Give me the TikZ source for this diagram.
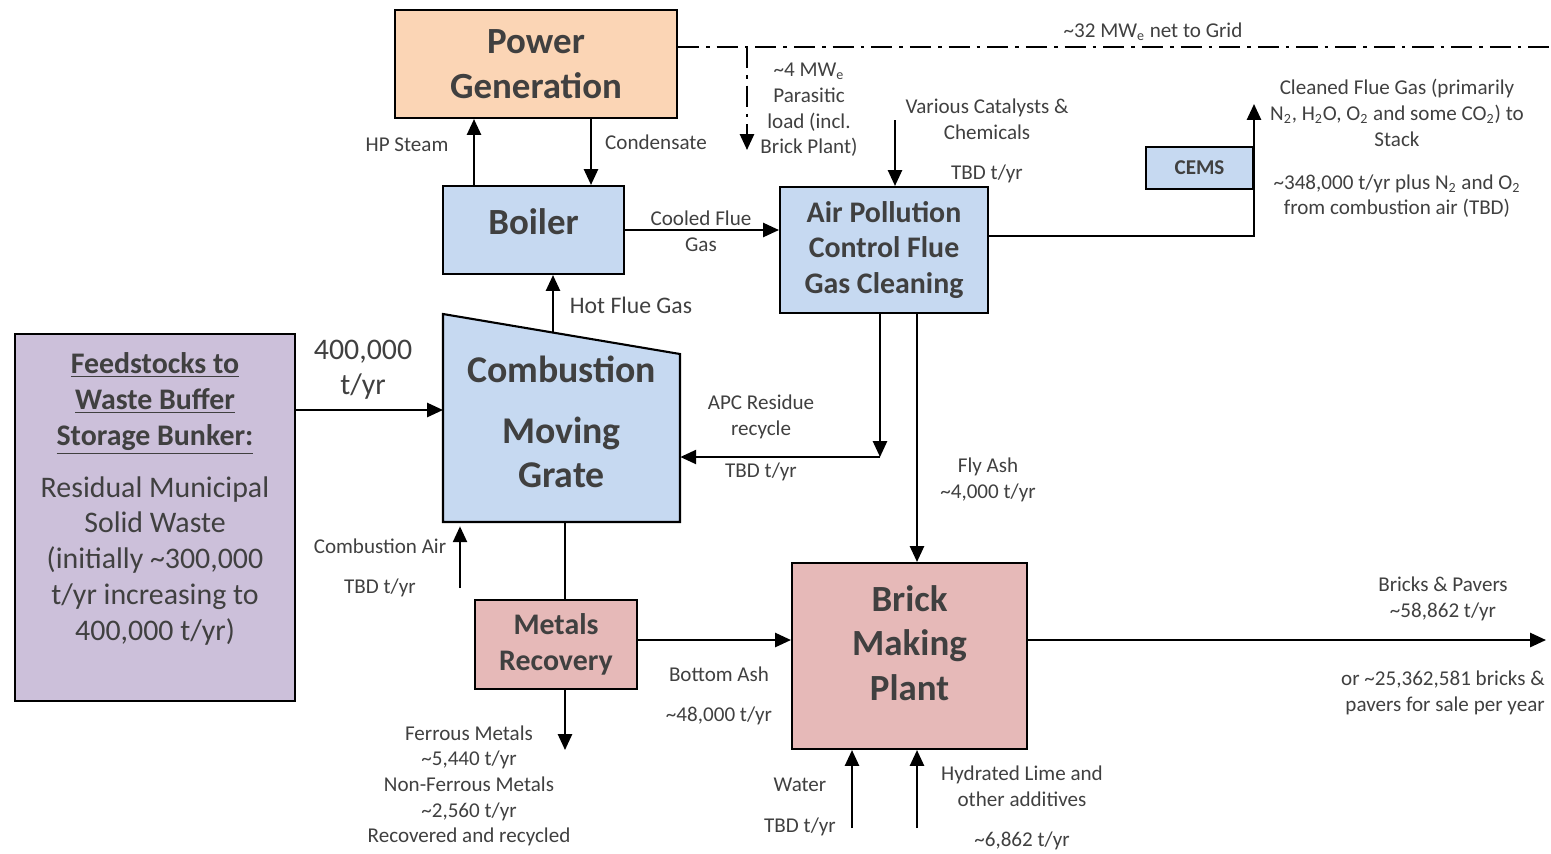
\documentclass[tikz,border=0pt]{standalone}
\usepackage{fontspec}
\setmainfont{Carlito}
\usetikzlibrary{arrows.meta,positioning,calc}
\definecolor{PowerPeach}{HTML}{FBD5B5}
\definecolor{ProcessBlue}{HTML}{C6D9F1}
\definecolor{FeedPurple}{HTML}{CCC0DA}
\definecolor{BrickPink}{HTML}{E6B9B8}
\definecolor{InkGray}{HTML}{404040}

\begin{document}
\begin{tikzpicture}[x=0.02cm,y=-0.02cm,
 box/.style={draw=black,line width=1.2pt,align=center,text=InkGray,inner sep=0pt},
 bigtitle/.style={font=\fontsize{21}{25.5}\selectfont\bfseries},
 midtitle/.style={font=\fontsize{17}{20.4}\selectfont\bfseries},
 lbl/.style={align=center,text=InkGray,font=\fontsize{12}{14.6}\selectfont,inner sep=0pt},
 flow/.style={-{Triangle[length=9pt,width=8pt]},line width=1.2pt},
 link/.style={line width=1.2pt},
 elec/.style={line width=1.2pt,dash pattern=on 12pt off 4pt on 2pt off 4pt}]
\useasboundingbox (0,0) rectangle (1551,853);
% process blocks
\node[box,bigtitle,fill=PowerPeach,minimum width=5.64cm,minimum height=2.16cm] (pow) at (536,64) {Power\\Generation};
\node[box,bigtitle,fill=ProcessBlue,minimum width=3.62cm,minimum height=1.76cm] (boiler) at (533.5,230) {\raisebox{10pt}{Boiler}};
\node[box,midtitle,fill=ProcessBlue,minimum width=4.16cm,minimum height=2.52cm] (apc) at (884,250) {Air Pollution\\Control Flue\\Gas Cleaning};
\node[box,fill=ProcessBlue,minimum width=2.14cm,minimum height=0.84cm,font=\fontsize{12}{14}\selectfont\bfseries] (cems) at (1199.5,168) {CEMS};
\node[box,fill=FeedPurple,minimum width=5.6cm,minimum height=7.34cm] (feed) at (155,517.5) {};
\node[align=center,text=InkGray,font=\fontsize{17}{20.4}\selectfont] (feedtxt) at (155,499)
 {\textbf{\underline{Feedstocks to}}\\\textbf{\underline{Waste Buffer}}\\\textbf{\underline{Storage Bunker:}}\\[9pt]
 Residual Municipal\\Solid Waste\\(initially \textasciitilde300,000\\t/yr increasing to\\400,000 t/yr)};
\draw[link,fill=ProcessBlue] (443,314) -- (680,354) -- (680,522) -- (443,522) -- cycle;
\node[align=center,text=InkGray,inner sep=0pt,minimum width=4.74cm,minimum height=4.16cm,font=\fontsize{21.5}{25}\selectfont\bfseries] (comb) at (561.5,422) {Combustion\\[10pt]Moving\\Grate};
\node[box,midtitle,fill=BrickPink,minimum width=3.24cm,minimum height=1.78cm] (metals) at (556,644.5) {Metals\\Recovery};
\node[box,fill=BrickPink,minimum width=4.7cm,minimum height=3.72cm] (brick) at (909.5,656) {};
\node[align=center,text=InkGray,bigtitle] (bricktxt) at (909.5,643) {Brick\\Making\\Plant};

% connector points
\coordinate (gridend) at (1551,47);
\coordinate (para) at (747,150);
\coordinate (hp) at (474,186);
\coordinate (cond) at (591,118);
\coordinate (hot) at (553,333);
\coordinate (cat) at (895,120);
\coordinate (apcout) at (988,236);
\coordinate (stack) at (1254,104);
\coordinate (res) at (880,457);
\coordinate (fly) at (917,313);
\coordinate (feedin) at (443,410);
\coordinate (air) at (460,588);
\coordinate (ash) at (565,522);
\coordinate (ferr) at (565,750);
\coordinate (botash) at (637,640);
\coordinate (sale) at (1546,640);
\coordinate (water) at (852,828);
\coordinate (lime) at (917,828);

% electricity
\draw[elec] (pow.east |- gridend) -- (gridend);
\draw[elec,-{Triangle[length=9pt,width=8pt]}] (para |- gridend) -- (para);

% material flows
\draw[flow] (hp) -- (hp |- pow.south);
\draw[flow] (cond) -- (cond |- boiler.north);
\draw[flow] (hot) -- (hot |- boiler.south);
\draw[flow] (boiler.east) -- (boiler.east -| apc.west);
\draw[flow] (cat) -- (cat |- apc.north);
\draw[flow] (apcout) -| (stack);
\draw[flow] (res |- apc.south) -- (res);
\draw[flow] (res) -- (res -| comb.east);
\draw[flow] (fly) -- (fly |- brick.north);
\draw[flow] (feedin -| feed.east) -- (feedin);
\draw[flow] (air) -- (air |- comb.south);
\draw[link] (ash) -- (ash |- metals.north);
\draw[flow] (ash |- metals.south) -- (ferr);
\draw[flow] (botash) -- (botash -| brick.west);
\draw[flow] (sale -| brick.east) -- (sale);
\draw[flow] (water) -- (water |- brick.south);
\draw[flow] (lime) -- (lime |- brick.south);

% labels
\node[lbl] (gridlbl) at (1153,32) {\textasciitilde32 MW\textsubscript{e} net to Grid};
\node[lbl] (paralbl) at (809,110) {\textasciitilde4 MW\textsubscript{e}\\Parasitic\\load (incl.\\Brick Plant)};
\node[lbl] (hplbl) at (407,145) {HP Steam};
\node[lbl] (condlbl) at (656,142) {Condensate};
\node[lbl] (coollbl) at (701,231) {Cooled Flue\\Gas};
\node[lbl,font=\fontsize{13.5}{16}\selectfont] (hotlbl) at (631,305) {Hot Flue Gas};
\node[lbl] (catlbl) at (987,119) {Various Catalysts \&\\Chemicals};
\node[lbl] (catrate) at (987,174) {TBD t/yr};
\node[lbl] (stacklbl) at (1397,113) {Cleaned Flue Gas (primarily\\N\textsubscript{2}, H\textsubscript{2}O, O\textsubscript{2} and some CO\textsubscript{2}) to\\Stack};
\node[lbl] (stackrate) at (1397,196) {\textasciitilde348,000 t/yr plus N\textsubscript{2} and O\textsubscript{2}\\from combustion air (TBD)};
\node[lbl] (reslbl) at (761,417) {APC Residue\\recycle};
\node[lbl] (resrate) at (761,472) {TBD t/yr};
\node[lbl] (flylbl) at (988,480) {Fly Ash\\\textasciitilde4,000 t/yr};
\node[lbl,font=\fontsize{17}{20}\selectfont] (feedrate) at (363,370) {400,000\\t/yr};
\node[lbl] (airlbl) at (380,546) {Combustion Air};
\node[lbl] (airrate) at (380,588) {TBD t/yr};
\node[lbl] (ashlbl) at (719,674) {Bottom Ash};
\node[lbl] (ashrate) at (719,716) {\textasciitilde48,000 t/yr};
\node[lbl] (ferrlbl) at (469,786) {Ferrous Metals\\\textasciitilde5,440 t/yr\\Non-Ferrous Metals\\\textasciitilde2,560 t/yr\\Recovered and recycled};
\node[lbl] (waterlbl) at (800,785) {Water};
\node[lbl] (waterrate) at (800,827) {TBD t/yr};
\node[lbl] (limelbl) at (1022,786) {Hydrated Lime and\\other additives};
\node[lbl] (limerate) at (1022,841) {\textasciitilde6,862 t/yr};
\node[lbl] (salelbl) at (1443,599) {Bricks \& Pavers\\\textasciitilde58,862 t/yr};
\node[lbl,align=right,anchor=east] (salecount) at (1545,693) {or \textasciitilde25,362,581 bricks \&\\pavers for sale per year};
\end{tikzpicture}
\end{document}
